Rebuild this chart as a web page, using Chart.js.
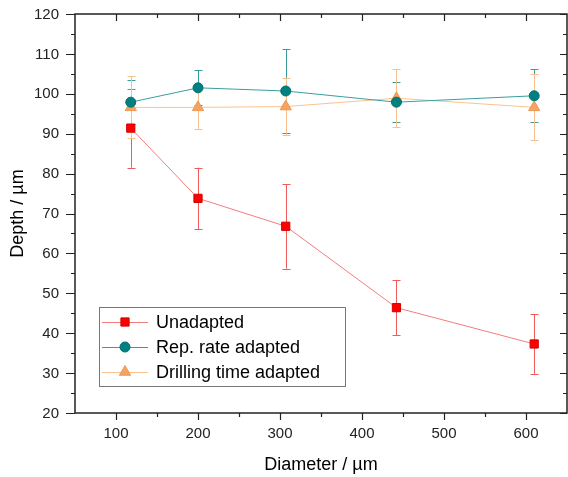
<!DOCTYPE html>
<html lang="en">
<head>
<meta charset="UTF-8">
<title>Depth vs Diameter</title>
<script src="https://cdn.jsdelivr.net/npm/chart.js"></script>
<style>
  html, body { margin: 0; padding: 0; background: #fff; }
  .wrap { width: 568px; height: 477px; position: relative; }
</style>
</head>
<body>
<div class="wrap"><canvas id="myChart" width="568" height="477"></canvas></div>
<script>
  // values
  const diameter = [118, 200, 307, 442, 610];
  const unadapted = [91.4, 73.8, 66.8, 46.4, 37.3];
  const unadaptedErr = [9.9, 7.7, 10.6, 6.9, 7.5];
  const repRate = [97.9, 101.5, 100.7, 97.9, 99.5];
  const repRateErr = [5.5, 4.4, 10.5, 5.0, 6.6];
  const drilling = [96.6, 96.6, 96.8, 98.9, 96.6];
  const drillingErr = [7.8, 5.4, 7.2, 7.3, 8.3];
  const xTicks = [100, 200, 300, 400, 500, 600];
  const yTicks = [20, 30, 40, 50, 60, 70, 80, 90, 100, 110, 120];

  const FONT = 'Arial, "Liberation Sans", sans-serif';

  function pts(ys) {
    return diameter.map((x, i) => ({ x: x, y: ys[i] }));
  }

  const series = [
    { label: 'Unadapted', ys: unadapted, err: unadaptedErr, line: '#f47c7c', errColor: '#f05a5a',
      fill: '#ff0000', edge: '#d00000', style: 'rect', radius: 5.8 },
    { label: 'Rep. rate adapted', ys: repRate, err: repRateErr, line: '#3a9e9e', errColor: '#3a9e9e',
      fill: '#008080', edge: '#007070', style: 'circle', radius: 5 },
    { label: 'Drilling time adapted', ys: drilling, err: drillingErr, line: '#f9c390', errColor: '#f7bf8c',
      fill: '#f4a460', edge: '#eb9a55', style: 'triangle', radius: 6.5 }
  ];

  // error bars, drawn under the markers
  const errorBars = {
    id: 'errorBars',
    beforeDatasetsDraw(chart) {
      const ctx = chart.ctx, xs = chart.scales.x, ys = chart.scales.y;
      ctx.save();
      ctx.lineWidth = 1;
      series.forEach(s => {
        ctx.strokeStyle = s.errColor;
        diameter.forEach((d, i) => {
          const px = Math.round(xs.getPixelForValue(d)) + 0.5;
          const top = ys.getPixelForValue(s.ys[i] + s.err[i]);
          const bot = ys.getPixelForValue(s.ys[i] - s.err[i]);
          ctx.beginPath();
          ctx.moveTo(px, top); ctx.lineTo(px, bot);
          ctx.moveTo(px - 4, Math.round(top) + 0.5); ctx.lineTo(px + 4, Math.round(top) + 0.5);
          ctx.moveTo(px - 4, Math.round(bot) + 0.5); ctx.lineTo(px + 4, Math.round(bot) + 0.5);
          ctx.stroke();
        });
      });
      ctx.restore();
    }
  };

  // box frame with major/minor ticks on all four sides, plus tick labels
  const frame = {
    id: 'frame',
    afterDraw(chart) {
      const ctx = chart.ctx, a = chart.chartArea, xs = chart.scales.x, ys = chart.scales.y;
      ctx.save();
      ctx.strokeStyle = '#222';
      ctx.lineWidth = 1.5;
      ctx.strokeRect(a.left, a.top, a.right - a.left, a.bottom - a.top);
      ctx.lineWidth = 1.2;
      ctx.beginPath();
      for (let v = 50; v <= 650; v += 50) {
        const px = Math.round(xs.getPixelForValue(v)) + 0.5;
        const major = v % 100 === 0;
        const len = major ? 7 : 4;
        if (v > 50 && v < 650) {
          ctx.moveTo(px, a.bottom); ctx.lineTo(px, a.bottom + len);
          ctx.moveTo(px, a.top); ctx.lineTo(px, a.top + len);
        }
      }
      for (let v = 20; v <= 120; v += 5) {
        const py = Math.round(ys.getPixelForValue(v)) + 0.5;
        const major = v % 10 === 0;
        const len = major ? 9 : 4;
        ctx.moveTo(a.left, py); ctx.lineTo(a.left - len, py);
        ctx.moveTo(a.right, py); ctx.lineTo(a.right - (major ? 7 : 4), py);
      }
      ctx.stroke();

      ctx.fillStyle = '#222';
      ctx.font = '15px ' + FONT;
      ctx.textBaseline = 'middle';
      ctx.textAlign = 'center';
      xTicks.forEach(v => ctx.fillText(String(v), xs.getPixelForValue(v), a.bottom + 21));
      ctx.textAlign = 'right';
      yTicks.forEach(v => ctx.fillText(String(v), a.left - 16, ys.getPixelForValue(v) + 0.5));
      ctx.restore();
    }
  };

  // legend box inside the plot area
  const boxLegend = {
    id: 'boxLegend',
    afterDraw(chart) {
      const ctx = chart.ctx;
      const bx = 99.5, by = 307.5, bw = 246, bh = 79;
      ctx.save();
      ctx.fillStyle = '#fff';
      ctx.fillRect(bx, by, bw, bh);
      ctx.strokeStyle = '#777';
      ctx.lineWidth = 1;
      ctx.strokeRect(bx, by, bw, bh);
      const rows = [322, 347, 372];
      ctx.font = '18px ' + FONT;
      ctx.textBaseline = 'middle';
      series.forEach((s, i) => {
        const y = rows[i];
        ctx.strokeStyle = s.line;
        ctx.lineWidth = 1;
        ctx.beginPath();
        ctx.moveTo(102, y + 0.5); ctx.lineTo(148, y + 0.5);
        ctx.stroke();
        ctx.fillStyle = s.fill;
        ctx.strokeStyle = s.edge;
        Chart.helpers.drawPoint(ctx, { pointStyle: s.style, radius: s.radius, borderWidth: 1, rotation: 0 }, 125, y);
        ctx.fillStyle = '#000';
        ctx.fillText(s.label, 156, y + 1);
      });
      ctx.restore();
    }
  };

  const ctx = document.getElementById('myChart').getContext('2d');
  const myChart = new Chart(ctx, {
    type: 'scatter',
    data: {
      datasets: series.map(s => ({
        label: s.label,
        data: pts(s.ys),
        showLine: true,
        borderColor: s.line,
        borderWidth: 1,
        pointStyle: s.style,
        pointRadius: s.radius,
        pointHoverRadius: s.radius,
        pointBackgroundColor: s.fill,
        pointBorderColor: s.edge,
        pointBorderWidth: 1
      }))
    },
    plugins: [errorBars, frame, boxLegend],
    options: {
      responsive: false,
      animation: false,
      layout: { autoPadding: false, padding: { top: 14, right: 1, left: 0, bottom: 0 } },
      plugins: { legend: { display: false }, tooltip: { enabled: false } },
      scales: {
        x: {
          type: 'linear',
          min: 50, max: 650,
          afterBuildTicks: scale => { scale.ticks = xTicks.map(v => ({ value: v })); },
          afterFit: scale => {
            scale.height = 64;
            scale.paddingLeft = 0; scale.paddingRight = 0;
          },
          grid: { display: false, drawTicks: false },
          border: { display: false },
          ticks: { display: false },
          title: { display: true, text: 'Diameter / µm', color: '#000',
                   font: { family: FONT, size: 18 }, padding: { bottom: 1, top: 0 } }
        },
        y: {
          min: 20, max: 120,
          afterBuildTicks: scale => { scale.ticks = yTicks.map(v => ({ value: v })); },
          afterFit: scale => {
            scale.width = 75;
            scale.paddingTop = 0; scale.paddingBottom = 0;
          },
          grid: { display: false, drawTicks: false },
          border: { display: false },
          ticks: { display: false },
          title: { display: true, text: 'Depth / µm', color: '#000',
                   font: { family: FONT, size: 18 }, padding: { top: 7, bottom: 0 } }
        }
      }
    }
  });
</script>
</body>
</html>
